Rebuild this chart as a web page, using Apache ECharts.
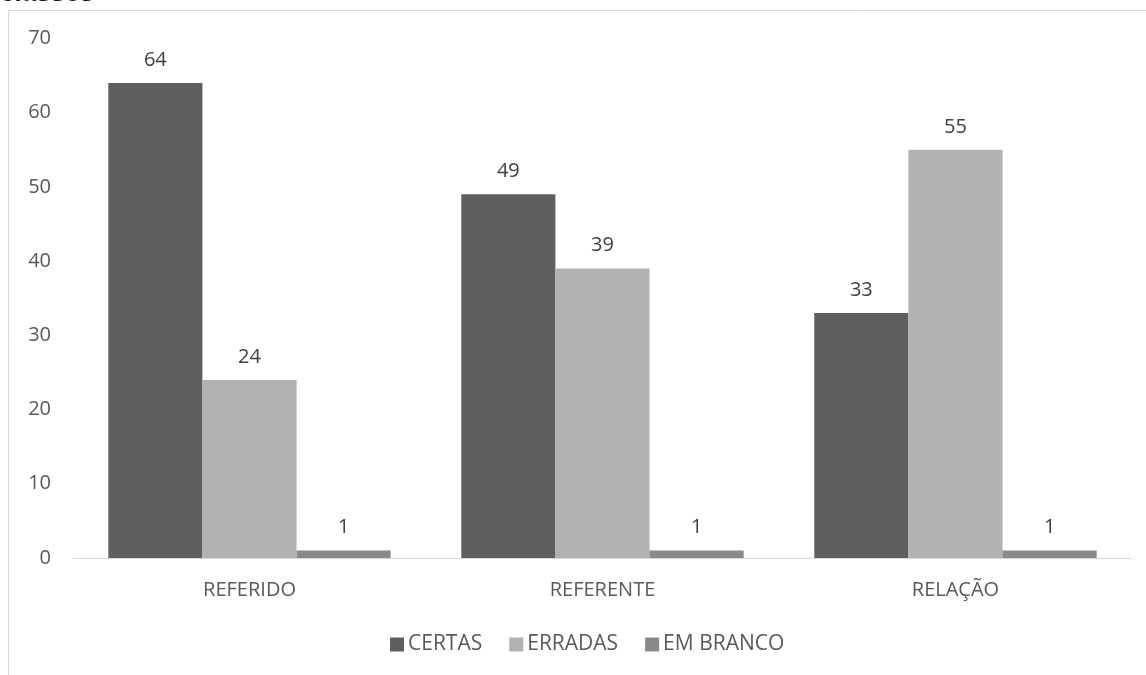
<!DOCTYPE html>
<html>
<head>
<meta charset="utf-8">
<script src="https://cdn.jsdelivr.net/npm/echarts@6/dist/echarts.min.js"></script>
<style>
  html, body { margin: 0; padding: 0; background: #fff; }
  #chart { width: 1146px; height: 675px; }
</style>
</head>
<body>
<div id="chart"></div>
<script>
// Categories and counts per answer type
const categories = ['REFERIDO', 'REFERENTE', 'RELAÇÃO'];
const certas = [64, 49, 33];
const erradas = [24, 39, 55];
const emBranco = [1, 1, 1];
const seriesNames = ['CERTAS', 'ERRADAS', 'EM BRANCO'];
const seriesColors = ['#5f5f5f', '#b2b2b2', '#8a8a8a'];

const FONT = '"Open Sans", "Noto Sans", sans-serif';
const FS = 20;

const chart = echarts.init(document.getElementById('chart'), null, { renderer: 'canvas' });

function barSeries(name, data, color) {
  return {
    name: name,
    type: 'bar',
    data: data,
    barGap: '0%',
    barCategoryGap: '20%',
    itemStyle: { color: color },
    label: {
      show: true,
      position: 'top',
      distance: 13,
      color: '#404040',
      fontSize: FS,
      fontFamily: FONT
    },
    emphasis: { disabled: true }
  };
}

chart.setOption({
  animation: false,
  backgroundColor: '#ffffff',
  graphic: [
    {
      type: 'text',
      left: 0,
      top: -19,
      style: { text: 'classes', fontSize: 26, fontWeight: 'bold', fill: '#111', fontFamily: '"Liberation Sans", Arial, sans-serif' }
    },
    {
      type: 'rect',
      shape: { x: 8.5, y: 10.5, width: 1200, height: 800 },
      style: { fill: 'none', stroke: '#d9d9d9', lineWidth: 1 },
      z: -1
    }
  ],
  grid: { left: 73, right: 14, top: 38.5, bottom: 117, containLabel: false },
  legend: {
    data: seriesNames,
    top: 629,
    left: 385,
    itemWidth: 14,
    itemHeight: 14,
    itemGap: 27,
    icon: 'rect',
    textStyle: { color: '#595959', fontSize: 21, fontFamily: FONT, padding: [0, 0, 0, -1] }
  },
  xAxis: {
    type: 'category',
    data: categories,
    axisLine: { show: true, lineStyle: { color: '#d9d9d9', width: 1 } },
    axisTick: { show: false },
    axisLabel: { color: '#595959', fontSize: FS, fontFamily: FONT, margin: 22 }
  },
  yAxis: {
    type: 'value',
    min: 0,
    max: 70,
    interval: 10,
    splitLine: { show: false },
    axisLine: { show: false },
    axisTick: { show: false },
    axisLabel: { color: '#595959', fontSize: FS, fontFamily: FONT, margin: 22 }
  },
  series: [
    barSeries(seriesNames[0], certas, seriesColors[0]),
    barSeries(seriesNames[1], erradas, seriesColors[1]),
    barSeries(seriesNames[2], emBranco, seriesColors[2])
  ]
});
</script>
</body>
</html>
